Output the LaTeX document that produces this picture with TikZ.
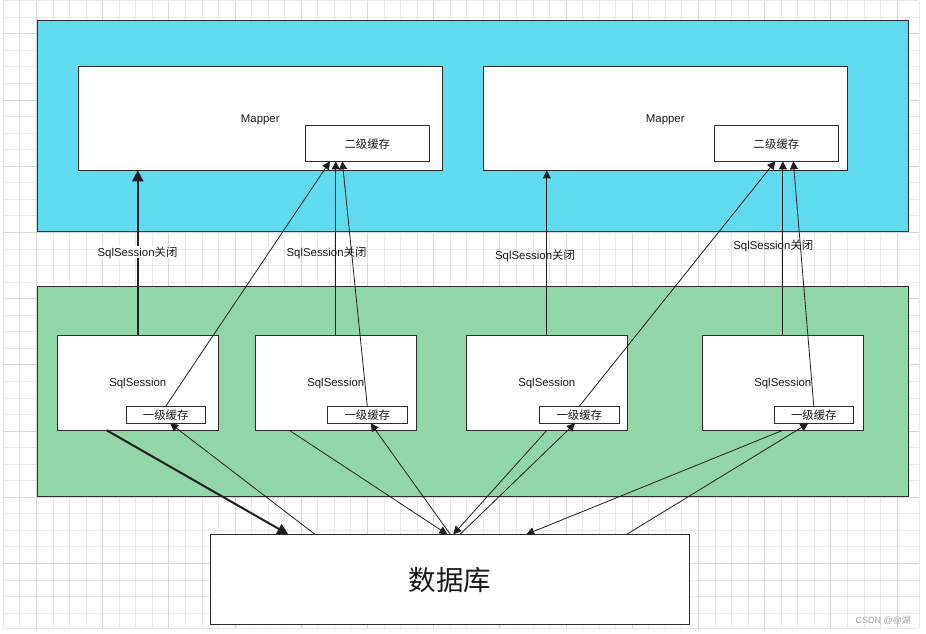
\documentclass[tikz,border=0pt]{standalone}
\usepackage{fontspec}
\setmainfont{Liberation Sans}
\newfontfamily\cjk{Noto Sans CJK SC}
\usetikzlibrary{arrows.meta}
\definecolor{bluefill}{RGB}{96,218,239}
\definecolor{greenfill}{RGB}{145,214,169}
\definecolor{gridminor}{RGB}{233,233,233}
\definecolor{gridmajor}{RGB}{216,216,216}
\definecolor{edgecol}{RGB}{30,30,30}
\definecolor{boxline}{RGB}{45,45,45}
\definecolor{wmark}{RGB}{160,160,160}
\begin{document}
\begin{tikzpicture}[x=1pt,y=-1pt,
  every node/.style={font=\fontsize{11.4pt}{13pt}\selectfont, text=black!90, inner sep=0pt, outer sep=0pt, text depth=0pt},
  panel/.style={draw=boxline, line width=1pt},
  wbox/.style={draw=boxline, line width=1pt, fill=white},
  thinarrow/.style={draw=edgecol, line width=0.8pt, -{Triangle[length=8pt,width=8pt]}},
  thickarrow/.style={draw=edgecol, line width=2pt, -{Triangle[length=11pt,width=11pt]}},
  lbl/.style={inner sep=1pt}
]
\useasboundingbox (0,0) rectangle (926,634);
\fill[white] (0,0) rectangle (926,634);
% grid
\foreach \k in {0,...,54} {
  \pgfmathsetmacro\xx{3.3+16.55*\k}
  \draw[gridminor, line width=0.8pt] (\xx,0.7) -- (\xx,628.3);
}
\foreach \k in {0,...,37} {
  \pgfmathsetmacro\yy{0.7+16.55*\k}
  \draw[gridminor, line width=0.8pt] (3.3,\yy) -- (919.3,\yy);
}
\draw[gridminor, line width=0.8pt] (919.3,0.7) -- (919.3,628.3);
\draw[gridminor, line width=0.8pt] (3.3,628.3) -- (919.3,628.3);
\foreach \k in {2,6,...,54} {
  \pgfmathsetmacro\xx{3.3+16.55*\k}
  \draw[gridmajor, line width=0.8pt] (\xx,0.7) -- (\xx,628.3);
}
\foreach \k in {2,6,...,34} {
  \pgfmathsetmacro\yy{0.7+16.55*\k}
  \draw[gridmajor, line width=0.8pt] (3.3,\yy) -- (919.3,\yy);
}

% panels
\node[panel, fill=bluefill, minimum width=871pt, minimum height=210.7pt] (bluebg) at (472.5,125.65) {};
\node[panel, fill=greenfill, minimum width=871pt, minimum height=210pt] (greenbg) at (472.5,391.3) {};

% mapper boxes
\node[wbox, minimum width=364pt, minimum height=104pt] (m1) at (260.3,118.3) {Mapper};
\node[wbox, minimum width=364pt, minimum height=104pt] (m2) at (665.3,118.3) {Mapper};
\node[wbox, minimum width=124pt, minimum height=36pt] (l2a) at (367.3,143.3) {\cjk 二级缓存};
\node[wbox, minimum width=124.4pt, minimum height=36pt] (l2b) at (776.5,143.3) {\cjk 二级缓存};

% sqlsession boxes
\node[wbox, minimum width=161pt, minimum height=95pt] (ss1) at (137.8,382.8) {SqlSession};
\node[wbox, minimum width=161pt, minimum height=95pt] (ss2) at (335.8,382.8) {SqlSession};
\node[wbox, minimum width=161pt, minimum height=95pt] (ss3) at (546.8,382.8) {SqlSession};
\node[wbox, minimum width=161pt, minimum height=95pt] (ss4) at (782.8,382.8) {SqlSession};
\node[wbox, minimum width=79.3pt, minimum height=17pt] (c1) at (165.7,414.8) {\cjk 一级缓存};
\node[wbox, minimum width=80pt, minimum height=17pt] (c2) at (367.3,414.8) {\cjk 一级缓存};
\node[wbox, minimum width=80pt, minimum height=17pt] (c3) at (579.3,414.8) {\cjk 一级缓存};
\node[wbox, minimum width=79pt, minimum height=17pt] (c4) at (813.8,414.8) {\cjk 一级缓存};

% database
\node[wbox, minimum width=479pt, minimum height=89.7pt, font=\fontsize{27.5pt}{30pt}\selectfont\cjk] (db) at (449.8,579.2) {数据库};

% upward connectors (to mapper / second-level cache)
\draw[thickarrow] (ss1.north) -- (ss1.north |- m1.south);
\node[lbl, fill=white] (lab1) at (137.5,252) {SqlSession{\cjk 关闭}};
\draw[thinarrow] (c1.north) -- ([xshift=24.7pt]l2a.south west);
\draw[thinarrow] (ss2.north) -- (ss2.north |- l2a.south);
\draw[thinarrow] (c2.north) -- ([xshift=37pt]l2a.south west);
\node[lbl] (lab2) at (326.5,252) {SqlSession{\cjk 关闭}};

\draw[thinarrow] (ss3.north) -- (ss3.north |- m2.south);
\node[lbl] (lab3) at (535,254.3) {SqlSession{\cjk 关闭}};
\draw[thinarrow] (c3.north) -- ([xshift=61pt]l2b.south west);
\draw[thinarrow] (ss4.north) -- (ss4.north |- l2b.south);
\draw[thinarrow] (c4.north) -- ([xshift=79pt]l2b.south west);
\node[lbl] (lab4) at (773.3,245) {SqlSession{\cjk 关闭}};

% connectors between sessions / caches and database
\draw[thickarrow] ([xshift=49.4pt]ss1.south west) -- ([xshift=78pt]db.north west);
\draw[thinarrow] ([xshift=104.7pt]db.north west) -- ([xshift=44pt]c1.south west);
\draw[thinarrow] ([xshift=34pt]ss2.south west) -- ([xshift=237pt]db.north west);
\draw[thinarrow] ([xshift=240pt]db.north west) -- ([xshift=43.4pt]c2.south west);
\draw[thinarrow] (ss3.south) -- ([xshift=243pt]db.north west);
\draw[thinarrow] ([xshift=249.7pt]db.north west) -- ([xshift=35.7pt]c3.south west);
\draw[thinarrow] (ss4.south) -- ([xshift=316pt]db.north west);
\draw[thinarrow] ([xshift=416.4pt]db.north west) -- ([xshift=34pt]c4.south west);

% watermark
\node[font=\fontsize{9pt}{10pt}\selectfont, text=wmark] (wm) at (883.3,619.3) {CSDN @@{\cjk 湖}};
\end{tikzpicture}
\end{document}
